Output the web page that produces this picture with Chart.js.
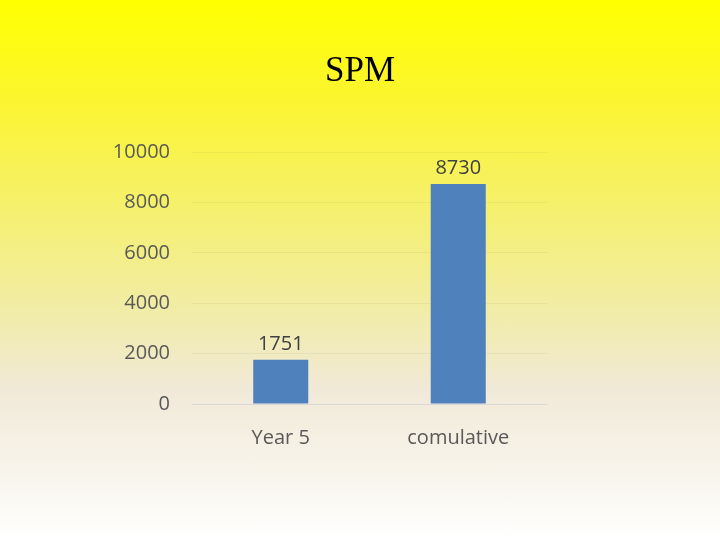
<!DOCTYPE html>
<html>
<head>
<meta charset="utf-8">
<script src="https://cdn.jsdelivr.net/npm/chart.js@4/dist/chart.umd.min.js"></script>
<style>
  html, body { margin: 0; padding: 0; }
  body {
    width: 720px; height: 540px; overflow: hidden;
    background: linear-gradient(to bottom, #ffff00 0%, #fbf52e 18%, #f5f072 40%, #f1eca8 58%, #f1e9d8 72%, #f8f5ec 88%, #ffffff 100%);
  }
  #wrap { position: absolute; left: 0; top: 0; width: 720px; height: 540px; }
</style>
</head>
<body>
<div id="wrap"><canvas id="grafica"></canvas></div>
<script>
const categorias = ["Year 5", "comulative"];
const valores = [1751, 8730];
const ticksY = [0, 2000, 4000, 6000, 8000, 10000];

const gris = "#595959";

// dibuja el valor encima de cada barra
const etiquetas = {
  id: "etiquetas",
  afterDatasetsDraw(chart) {
    const ctx = chart.ctx;
    const meta = chart.getDatasetMeta(0);
    ctx.save();
    ctx.font = "20px 'Open Sans'";
    ctx.fillStyle = "#404040";
    ctx.textAlign = "center";
    ctx.textBaseline = "bottom";
    meta.data.forEach((bar, i) => {
      ctx.fillText(String(valores[i]), bar.x, bar.y - 6);
    });
    ctx.restore();
  }
};

const grafica = document.getElementById("grafica").getContext("2d");
new Chart(grafica, {
  type: "bar",
  data: {
    labels: categorias,
    datasets: [{
      data: valores,
      backgroundColor: "#4f81bd",
      categoryPercentage: 1,
      barPercentage: 0.31
    }]
  },
  options: {
    responsive: true,
    maintainAspectRatio: false,
    animation: false,
    layout: { padding: { top: 0, left: 0, right: 0, bottom: 76 } },
    plugins: {
      legend: { display: false },
      tooltip: { enabled: false },
      title: {
        display: true,
        text: "SPM",
        color: "#000000",
        font: { family: "'Liberation Serif', serif", size: 35, weight: "normal" },
        padding: { top: 51, bottom: 59 }
      }
    },
    scales: {
      x: {
        grid: { display: false },
        border: { display: true, color: "#d9d9d9" },
        ticks: { color: gris, font: { family: "'Open Sans'", size: 20 }, padding: 14 },
        afterFit(scale) { scale.height = 60; }
      },
      y: {
        min: 0,
        max: 10000,
        afterBuildTicks(scale) { scale.ticks = ticksY.map(v => ({ value: v })); },
        grid: { color: "rgba(0,0,0,0.045)", drawTicks: false },
        border: { display: false },
        ticks: {
          color: gris,
          font: { family: "'Open Sans'", size: 20 },
          padding: 22,
          callback: (v) => String(v)
        },
        afterFit(scale) { scale.width = 192; }
      },
      // eje vacio a la derecha solo para reservar espacio
      derecha: {
        position: "right",
        display: true,
        grid: { display: false },
        border: { display: false },
        ticks: { display: false },
        afterFit(scale) { scale.width = 173; }
      }
    }
  },
  plugins: [etiquetas]
});
</script>
</body>
</html>
